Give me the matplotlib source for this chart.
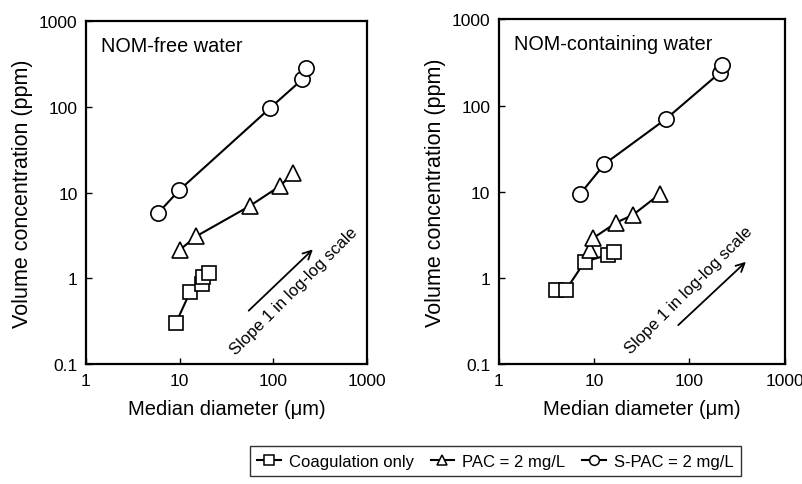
import matplotlib
matplotlib.use("Agg")
import matplotlib.pyplot as plt
from matplotlib.lines import Line2D

plt.rcParams['font.family'] = ['Liberation Sans', 'DejaVu Sans']

# NOM-free water
free_coag_d = [9.1, 12.9, 17.2, 17.9, 20.5]
free_coag_v = [0.30, 0.69, 0.86, 1.05, 1.15]
free_pac_d = [10, 15, 56, 118, 163]
free_pac_v = [2.15, 3.1, 7.0, 12, 16.9]
free_spac_d = [5.9, 9.9, 93, 204, 226]
free_spac_v = [5.8, 10.7, 98, 210, 283]

# NOM-containing water
nom_coag_d = [4.0, 5.05, 8.0, 14, 16.1]
nom_coag_v = [0.72, 0.72, 1.55, 1.85, 2.0]
nom_pac_d = [9.0, 9.8, 17.2, 25.7, 49]
nom_pac_v = [2.1, 2.9, 4.4, 5.4, 9.4]
nom_spac_d = [7.2, 12.9, 57, 209, 220]
nom_spac_v = [9.5, 21, 70, 240, 297]

series_labels = ['Coagulation only', 'PAC = 2 mg/L', 'S-PAC = 2 mg/L']
markers = ['s', '^', 'o']
msizes = [10, 11, 11]

fig = plt.figure(figsize=(8.03, 4.85), dpi=100)
ax1 = fig.add_axes([0.107, 0.247, 0.350, 0.707])
ax2 = fig.add_axes([0.621, 0.247, 0.356, 0.711])

panels = [
    (ax1, 'NOM-free water',
     [(free_coag_d, free_coag_v), (free_pac_d, free_pac_v), (free_spac_d, free_spac_v)],
     (52, 0.40), (278, 2.3), 0.74, 0.215),
    (ax2, 'NOM-containing water',
     [(nom_coag_d, nom_coag_v), (nom_pac_d, nom_pac_v), (nom_spac_d, nom_spac_v)],
     (73, 0.27), (413, 1.62), 0.665, 0.215),
]

for ax, title, data, a_start, a_end, tx, ty in panels:
    for (d, v), m, ms in zip(data, markers, msizes):
        ax.plot(d, v, '-', color='black', lw=1.5, marker=m, ms=ms,
                mfc='white', mec='black', mew=1.2)
    ax.set_xscale('log')
    ax.set_yscale('log')
    ax.set_xlim(1, 1000)
    ax.set_ylim(0.1, 1000)
    ax.set_xticks([1, 10, 100, 1000])
    ax.set_xticklabels(['1', '10', '100', '1000'])
    ax.set_yticks([0.1, 1, 10, 100, 1000])
    ax.set_yticklabels(['0.1', '1', '10', '100', '1000'])
    ax.minorticks_off()
    ax.tick_params(direction='in', length=4, width=1, labelsize=12.5, pad=6)
    for s in ax.spines.values():
        s.set_linewidth(1.6)
    ax.set_xlabel('Median diameter (\u03bcm)', fontsize=14.5, labelpad=8)
    ax.set_ylabel('Volume concentration (ppm)', fontsize=15.5, labelpad=4)
    ax.text(0.055, 0.93, title, transform=ax.transAxes, fontsize=14.3,
            va='center', ha='left')
    ax.annotate('', xy=a_end, xytext=a_start,
                arrowprops=dict(arrowstyle='->', color='black', lw=1.3,
                                mutation_scale=15))
    ax.text(tx, ty, 'Slope 1 in log-log scale', transform=ax.transAxes,
            fontsize=12, rotation=45, ha='center', va='center')

handles = [Line2D([0], [0], color='black', lw=1.5, marker=m, ms=7,
                  mfc='white', mec='black', mew=1.1) for m in markers]
leg = fig.legend(handles, series_labels, loc='center', ncol=3,
                 bbox_to_anchor=(0.617, 0.047), frameon=True, fontsize=12,
                 handlelength=1.4, handletextpad=0.5, columnspacing=1.0,
                 fancybox=False, borderpad=0.45)
leg.get_frame().set_edgecolor('black')
leg.get_frame().set_linewidth(1.0)

fig.savefig('out.png', dpi=100)
